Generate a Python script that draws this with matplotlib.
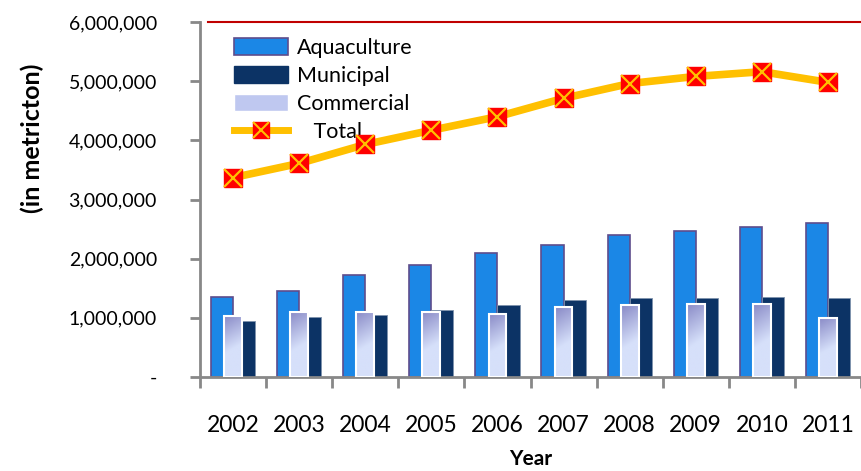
import numpy as np
import matplotlib
matplotlib.use("Agg")
import matplotlib.pyplot as plt
from matplotlib.patches import Patch
from matplotlib.lines import Line2D
from matplotlib.ticker import FuncFormatter

# ── data ──────────────────────────────────────────────────────────────────────
years       = ["2002", "2003", "2004", "2005", "2006",
               "2007", "2008", "2009", "2010", "2011"]
aquaculture = [1344000, 1452000, 1724000, 1893000, 2090000,
               2226000, 2395000, 2463000, 2537000, 2598000]
municipal   = [954000, 1017000, 1050000, 1124000, 1220000,
               1293000, 1327000, 1327000, 1356000, 1327000]
commercial  = [1034000, 1100000, 1100000, 1107000, 1073000,
               1175000, 1209000, 1242000, 1242000, 1005000]
total       = [3370000, 3610000, 3930000, 4170000, 4400000,
               4710000, 4960000, 5080000, 5160000, 4980000]

# ── style ─────────────────────────────────────────────────────────────────────
plt.rcParams["font.family"] = ["Lato", "DejaVu Sans"]
FS = 14

AQUA   = "#1B87E6"
AQ_EDG = "#5E4D8C"
MUNI   = "#0C3365"
LINE   = "#FFC000"
MARK   = "#FF0000"
AXCOL  = "#888888"

fig = plt.figure(figsize=(8.61, 4.71), dpi=100)
ax = fig.add_axes([200/861, 1-377/471, 1-200/861, (377-22)/471])

x = np.arange(len(years))
w = 0.335
wc = 0.27

ax.bar(x - w/2, aquaculture, w, color=AQUA, edgecolor=AQ_EDG, linewidth=1.2, zorder=2)
ax.bar(x + w/2, municipal, w, color=MUNI, edgecolor="#7f93ad", linewidth=0.6, zorder=2)

# commercial bars with a lavender → pale-blue gradient
grad_v = np.linspace(0, 1, 100)[:, None]
grad_h = np.linspace(0, 1, 20)[None, :]
t = np.clip(grad_v * 1.6 + grad_h * 0.25, 0, 1)
c0 = np.array([0x88, 0x89, 0xC6]) / 255
c1 = np.array([0xD6, 0xE0, 0xFA]) / 255
grad = c0[None, None, :] * (1 - t[..., None]) + c1[None, None, :] * t[..., None]
bars_c = ax.bar(x, commercial, wc, color="none", edgecolor="white", linewidth=1.5, zorder=4)
for b in bars_c:
    bx, by = b.get_x(), b.get_y()
    bw, bh = b.get_width(), b.get_height()
    im = ax.imshow(grad, extent=(bx, bx + bw, by + bh, by), aspect="auto",
                   origin="lower", zorder=3, interpolation="bilinear")
    im.set_clip_path(b)

# total line
ax.plot(x, total, color=LINE, lw=5.5, zorder=5, solid_capstyle="round")
ax.plot(x, total, ls="none", marker="s", ms=13.5, mfc=MARK, mec=MARK, zorder=6)
ax.plot(x, total, ls="none", marker="x", ms=13.5, mec=LINE, mew=1.6, zorder=7)

# ── axes ──────────────────────────────────────────────────────────────────────
ax.set_xlim(-0.5, 9.5 - 2/66.3)
ax.set_ylim(0, 6000000)
ax.set_yticks(np.arange(0, 6000001, 1000000))
ax.yaxis.set_major_formatter(FuncFormatter(lambda v, p: "-" if v == 0 else f"{int(v):,}"))
ax.set_xticks(x)
ax.set_xticklabels(years)
ax.set_xticks(np.arange(-0.5, 10, 1), minor=True)
ax.tick_params(axis="x", which="major", length=0, pad=27, labelsize=16.5)
ax.tick_params(axis="x", which="minor", length=8, width=2, color=AXCOL, direction="out")
ax.tick_params(axis="y", length=7, width=2, color=AXCOL, pad=24, labelsize=FS)

for s in ["top", "right"]:
    ax.spines[s].set_visible(False)
for s in ["left", "bottom"]:
    ax.spines[s].set_color(AXCOL)
    ax.spines[s].set_linewidth(2)

ax.axhline(6000000, xmin=0.012, color="#C00000", lw=1.5, clip_on=False, zorder=1)

ax.set_xlabel("Year", fontsize=15, fontweight="bold", labelpad=10)
fig.text(32/861, 1-138/471, "(in metricton)", rotation=90, fontsize=18,
         fontweight="bold", ha="center", va="center")

# ── legend ────────────────────────────────────────────────────────────────────
h_aq = Patch(facecolor=AQUA, edgecolor=AQ_EDG, linewidth=1.2)
h_mu = Patch(facecolor=MUNI, edgecolor=MUNI)
h_co = Patch(facecolor="#BFC8F0", edgecolor="white")
h_tl = (Line2D([], [], color=LINE, lw=5),
        Line2D([], [], ls="none", marker="s", ms=12, mfc=MARK, mec=MARK),
        Line2D([], [], ls="none", marker="x", ms=12, mec=LINE, mew=1.5))
ax.legend([h_aq, h_mu, h_co, h_tl],
          ["Aquaculture", "Municipal", "Commercial", "   Total"],
          loc="upper left", bbox_to_anchor=(223/861, 1-27/471),
          bbox_transform=fig.transFigure, frameon=False, fontsize=15.5,
          handlelength=2.5, handleheight=0.8, handletextpad=0.45,
          labelspacing=0.38, borderpad=0)

fig.savefig("out.png", dpi=100)
